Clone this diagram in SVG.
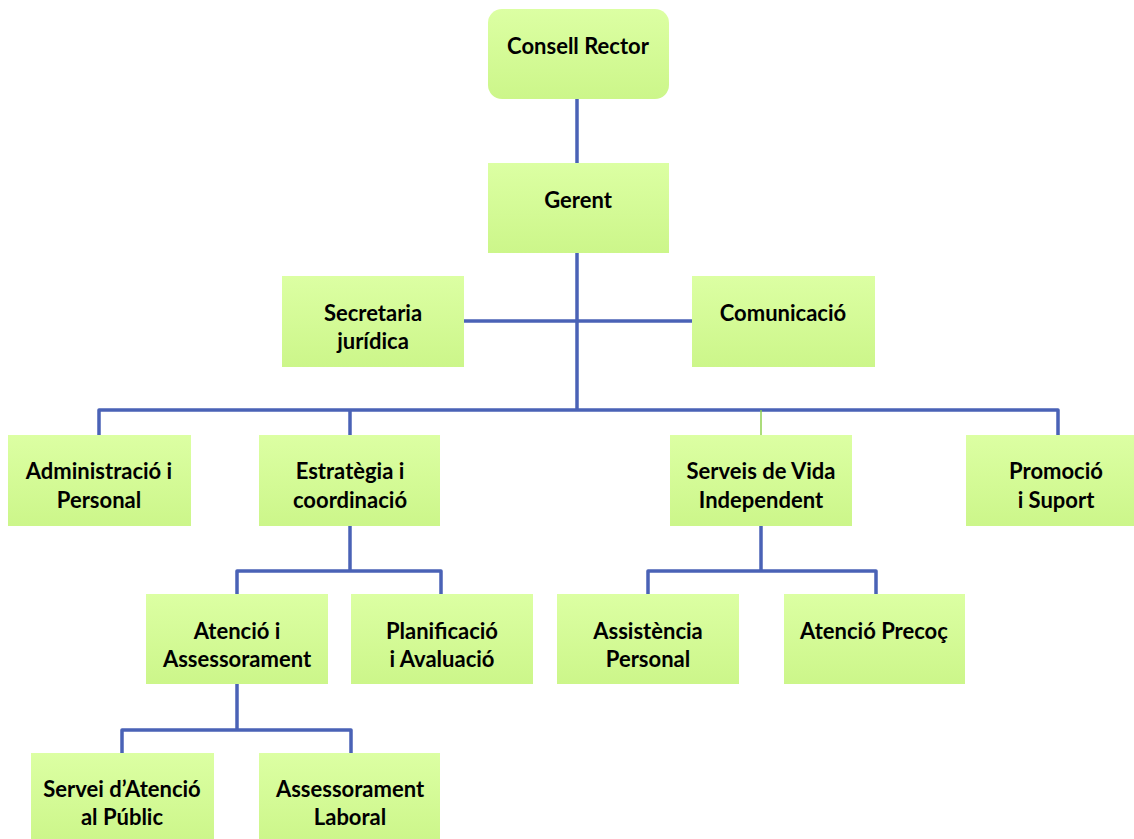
<svg xmlns="http://www.w3.org/2000/svg" width="1134" height="839" viewBox="0 0 1134 839">
<defs>
<linearGradient id="g" x1="0" y1="0" x2="0" y2="1">
<stop offset="0" stop-color="#dcffa3"/>
<stop offset="1" stop-color="#ccf68a"/>
</linearGradient>
<style>
.box{fill:url(#g);}
.t{font-family:Lato,"Liberation Sans",sans-serif;font-weight:bold;font-size:22px;fill:#000;text-anchor:middle;}
.c{stroke:#4a62b6;stroke-width:3.5;fill:none;stroke-linejoin:round;}
.cg{stroke:#8fd14f;stroke-width:1.5;fill:none;}
</style>
</defs>
<rect width="1134" height="839" fill="#fff"/>
<g id="connectors">
<path class="c" d="M577,96 V163"/>
<path class="c" d="M577,253 V410"/>
<path class="c" d="M464,321 H692"/>
<path class="c" d="M99,435 V410 H1058 V435"/>
<path class="c" d="M350,410 V435"/>
<path class="cg" d="M761,410 V435"/>
<path class="c" d="M350,526 V571"/>
<path class="c" d="M237,594 V571 H441 V594"/>
<path class="c" d="M761,526 V571"/>
<path class="c" d="M648,594 V571 H876 V594"/>
<path class="c" d="M237,684 V730"/>
<path class="c" d="M122,753 V730 H351 V753"/>
</g>
<g id="consell-rector"><rect class="box" x="488" y="9" width="181" height="90" rx="14"/><text class="t" x="578" y="54">Consell Rector</text></g>
<g id="gerent"><rect class="box" x="488" y="163" width="181" height="90"/><text class="t" x="578" y="208">Gerent</text></g>
<g id="secretaria"><rect class="box" x="282" y="276" width="182" height="91"/><text class="t" x="373" y="321">Secretaria</text><text class="t" x="373" y="349">jurídica</text></g>
<g id="comunicacio"><rect class="box" x="692" y="276" width="183" height="91"/><text class="t" x="783" y="321">Comunicació</text></g>
<g id="administracio"><rect class="box" x="8" y="435" width="183" height="91"/><text class="t" x="99" y="479">Administració i</text><text class="t" x="99" y="508">Personal</text></g>
<g id="estrategia"><rect class="box" x="259" y="435" width="181" height="91"/><text class="t" x="350" y="479">Estratègia i</text><text class="t" x="350" y="508">coordinació</text></g>
<g id="serveis"><rect class="box" x="670" y="435" width="182" height="91"/><text class="t" x="761" y="479">Serveis de Vida</text><text class="t" x="761" y="508">Independent</text></g>
<g id="promocio"><rect class="box" x="966" y="435" width="181" height="91"/><text class="t" x="1056" y="479">Promoció</text><text class="t" x="1056" y="508">i Suport</text></g>
<g id="atencio-assessorament"><rect class="box" x="146" y="594" width="182" height="90"/><text class="t" x="237" y="639">Atenció i</text><text class="t" x="237" y="667">Assessorament</text></g>
<g id="planificacio"><rect class="box" x="351" y="594" width="182" height="90"/><text class="t" x="442" y="639">Planificació</text><text class="t" x="442" y="667">i Avaluació</text></g>
<g id="assistencia"><rect class="box" x="557" y="594" width="182" height="90"/><text class="t" x="648" y="639">Assistència</text><text class="t" x="648" y="667">Personal</text></g>
<g id="atencio-precoc"><rect class="box" x="784" y="594" width="181" height="90"/><text class="t" x="874" y="639">Atenció Precoç</text></g>
<g id="servei-atencio"><rect class="box" x="31" y="753" width="183" height="90"/><text class="t" x="122" y="797">Servei d’Atenció</text><text class="t" x="122" y="825">al Públic</text></g>
<g id="assessorament-laboral"><rect class="box" x="259" y="753" width="181" height="90"/><text class="t" x="350" y="797">Assessorament</text><text class="t" x="350" y="825">Laboral</text></g>
</svg>
